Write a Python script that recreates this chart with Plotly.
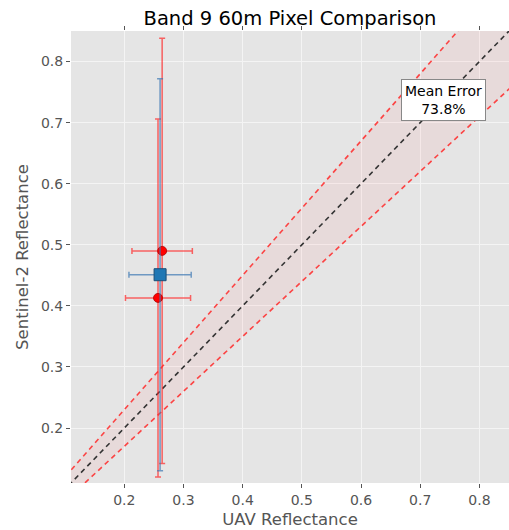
import numpy as np
import plotly.graph_objects as go

# Data
pix_x = [0.264, 0.257]          # UAV reflectance of individual pixels
pix_y = [0.490, 0.413]          # Sentinel-2 reflectance
pix_xerr = [0.051, 0.055]
pix_yerr = [0.348, 0.293]

mean_x = [0.2605]
mean_y = [0.451]
mean_xerr = [0.0526]
mean_yerr = [0.321]

line_range = [0.0, 1.0]          # 1:1 line extent
rel_unc = 0.10                   # relative uncertainty band
abs_unc = 0.01                   # absolute uncertainty band
mean_error_text = "Mean Error<br>73.8%"

axis_range = [0.11, 0.85]
ticks = [0.2, 0.3, 0.4, 0.5, 0.6, 0.7, 0.8]

lx = np.array(line_range)
upper = lx * (1 + rel_unc) + abs_unc
lower = lx * (1 - rel_unc) - abs_unc

fig = go.Figure()
# shaded band
fig.add_trace(go.Scatter(x=list(lx) + list(lx[::-1]), y=list(upper) + list(lower[::-1]),
                         fill="toself", fillcolor="rgba(255,110,110,0.09)",
                         line=dict(width=0), hoverinfo="skip", showlegend=False))
fig.add_trace(go.Scatter(x=lx, y=upper, mode="lines",
                         line=dict(color="rgba(255,40,40,0.85)", width=1.6, dash="5px,4px"),
                         showlegend=False))
fig.add_trace(go.Scatter(x=lx, y=lower, mode="lines",
                         line=dict(color="rgba(255,40,40,0.85)", width=1.6, dash="5px,4px"),
                         showlegend=False))
fig.add_trace(go.Scatter(x=lx, y=lx, mode="lines",
                         line=dict(color="#333333", width=1.6, dash="5px,4px"),
                         showlegend=False))

# individual pixels
fig.add_trace(go.Scatter(x=pix_x, y=pix_y, mode="markers",
                         marker=dict(symbol="circle", size=9, color="#ff0000",
                                     line=dict(color="#aa0000", width=0.8)),
                         error_x=dict(type="data", array=pix_xerr, color="rgba(255,40,40,0.7)",
                                      thickness=1.5, width=3),
                         error_y=dict(type="data", array=pix_yerr, color="rgba(255,40,40,0.7)",
                                      thickness=1.5, width=3),
                         showlegend=False))
# mean
fig.add_trace(go.Scatter(x=mean_x, y=mean_y, mode="markers",
                         marker=dict(symbol="square", size=12, color="#1f77b4",
                                     line=dict(color="#1a4f78", width=1)),
                         error_x=dict(type="data", array=mean_xerr, color="rgba(60,120,180,0.7)",
                                      thickness=1.5, width=3),
                         error_y=dict(type="data", array=mean_yerr, color="rgba(60,120,180,0.7)",
                                      thickness=1.5, width=3),
                         showlegend=False))

fig.add_annotation(x=0.739, y=0.737, xref="x", yref="y", text=mean_error_text,
                   showarrow=False, font=dict(family="DejaVu Sans", size=14, color="black"),
                   bgcolor="white", bordercolor="#888888", borderwidth=1, borderpad=3)

axis_common = dict(range=axis_range, tickvals=ticks, ticktext=[f"{t:.1f}" for t in ticks],
                   showgrid=True, gridcolor="#F4F4F4", gridwidth=1, zeroline=False,
                   ticks="outside", ticklen=4, tickcolor="#555555", tickwidth=1,
                   tickfont=dict(family="DejaVu Sans", size=14, color="#555555"),
                   showline=False, mirror="ticks")

fig.update_layout(
    width=509, height=530,
    margin=dict(l=71, r=0, t=31, b=47),
    paper_bgcolor="white", plot_bgcolor="#E5E5E5",
    title=dict(text="Band 9 60m Pixel Comparison", x=0.5698, xanchor="center",
               y=0.966, yanchor="middle",
               font=dict(family="DejaVu Sans", size=19.5, color="black")),
    xaxis=dict(**axis_common,
               title=dict(text="UAV Reflectance", standoff=6,
                          font=dict(family="DejaVu Sans", size=16.5, color="#555555"))),
    yaxis=dict(**axis_common,
               title=dict(text="Sentinel-2 Reflectance", standoff=8,
                          font=dict(family="DejaVu Sans", size=16.5, color="#555555"))),
)

fig.write_html("out.html")
